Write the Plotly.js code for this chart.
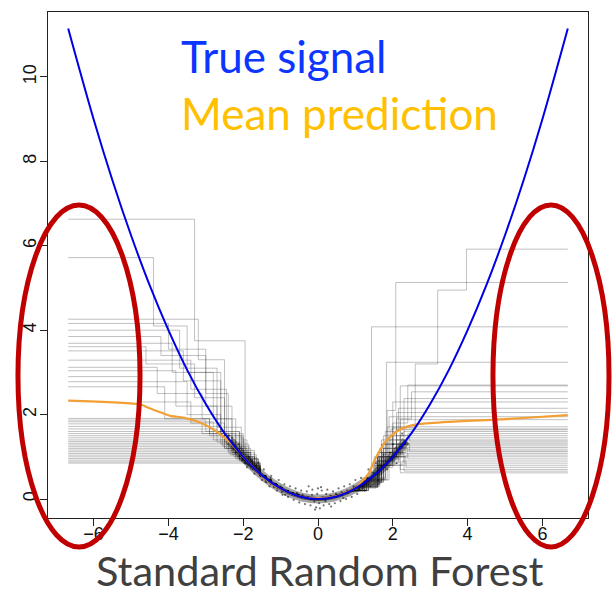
<!DOCTYPE html>
<html>
<head>
<meta charset="utf-8">
<script src="https://cdn.plot.ly/plotly-3.0.1.min.js"></script>
<style>html,body{margin:0;padding:0;background:#fff;}#chart{width:612px;height:596px;}</style>
</head>
<body>
<div id="chart"></div>
<script>
// ---- data ----
const xTicks = [-6, -4, -2, 0, 2, 4, 6];
const yTicks = [0, 2, 4, 6, 8, 10];

// true signal
const signalX = [-6.68, -6, -5.5, -5, -4.5, -4, -3.5, -3, -2.5, -2, -1.5, -1, -0.5, 0, 0.5, 1, 1.5, 2, 2.5, 3, 3.5, 4, 4.5, 5, 5.5, 6, 6.68];
const signalY = [11.15, 9.0, 7.56, 6.25, 5.06, 4.0, 3.06, 2.25, 1.56, 1.0, 0.56, 0.25, 0.06, 0, 0.06, 0.25, 0.56, 1.0, 1.56, 2.25, 3.06, 4.0, 5.06, 6.25, 7.56, 9.0, 11.15];

// mean prediction (orange)
const meanX = [-6.68, -4.75, -4.5, -4.2, -3.95, -3.6, -3.2, -2.8, -2.35, -2.0, -1.7, -1.37, -1.0, -0.5, 0, 0.5, 1.0, 1.12, 1.35, 1.56, 1.8, 2.1, 2.4, 2.72, 3.5, 4.5, 5.5, 6.68];
const meanY = [2.33, 2.24, 2.15, 2.05, 1.97, 1.93, 1.83, 1.65, 1.34, 1.0, 0.72, 0.45, 0.24, 0.06, 0.02, 0.07, 0.26, 0.36, 0.6, 1.0, 1.35, 1.6, 1.72, 1.78, 1.83, 1.87, 1.92, 1.99];

// dense band of observations (centre line of the black cloud)
const bandX = [-2.35, -2.0, -1.6, -1.2, -0.8, -0.4, 0, 0.4, 0.8, 1.2, 1.6, 2.0, 2.35];
const bandY = [1.38, 1.0, 0.64, 0.36, 0.16, 0.04, 0.0, 0.04, 0.16, 0.36, 0.64, 1.0, 1.38];

// scattered observations around the band
const obsX = [-2.38, -2.3, -2.25, -2.2, -2.12, -2.1, -2.02, -1.95, -1.9, -1.85, -1.78, -1.7, -1.66, -1.6, -1.55, -1.5, -1.45, -1.38, -1.3, -1.27, -1.25, -1.18, -1.1, -1.05, -1.0, -0.97, -0.95, -0.9, -0.84, -0.8, -0.75, -0.7, -0.65, -0.6, -0.57, -0.5, -0.45, -0.41, -0.35, -0.3, -0.27, -0.25, -0.2, -0.16, -0.15, -0.1, -0.05, -0.02, 0, 0.03, 0.05, 0.1, 0.12, 0.15, 0.2, 0.22, 0.25, 0.3, 0.33, 0.4, 0.45, 0.48, 0.55, 0.6, 0.63, 0.7, 0.75, 0.78, 0.85, 0.9, 0.95, 1.0, 1.05, 1.1, 1.15, 1.2, 1.25, 1.32, 1.35, 1.4, 1.47, 1.55, 1.6, 1.68, 1.75, 1.85, 1.92, 2.0, 2.1, 2.18, 2.25, 2.32, -0.55, 0.35, -1.4, 1.3, -0.88, 0.68, -0.08, 0.08];
const obsY = [1.5, 1.45, 1.18, 1.1, 1.3, 1.02, 0.92, 0.85, 0.75, 1.0, 0.9, 0.6, 0.78, 0.85, 0.55, 0.45, 0.7, 0.4, 0.3, 0.5, 0.55, 0.28, 0.2, 0.45, 0.3, 0.16, 0.1, 0.35, 0.2, 0.05, 0.3, 0.1, -0.02, 0.25, 0.14, -0.08, 0.2, 0.1, -0.12, 0.18, 0.05, 0.3, -0.15, 0.1, 0.22, -0.06, -0.2, 0.12, 0.25, -0.1, -0.22, 0.2, 0.04, -0.15, -0.05, 0.12, 0.22, -0.12, 0.08, 0.18, -0.1, 0.12, 0.25, -0.05, 0.16, 0.3, 0.0, 0.2, 0.35, 0.05, 0.3, 0.45, 0.12, 0.22, 0.5, 0.3, 0.2, 0.5, 0.7, 0.3, 0.62, 0.85, 0.45, 0.78, 1.05, 0.7, 1.1, 1.3, 0.85, 1.25, 1.55, 1.3, 0.12, -0.18, 0.42, 0.5, 0.1, 0.02, -0.25, 0.28];

// individual trees: [x where a level starts, level]
const treeLeft = [
  [[-6.68,6.63],[-3.3,3.75],[-1.95,1.1],[-1.7,0.75]],
  [[-6.68,5.72],[-4.4,4.1],[-3.5,3.0],[-2.6,1.6],[-2.1,1.0],[-1.8,0.7]],
  [[-6.68,4.26],[-3.2,3.3],[-2.5,1.5],[-2.0,1.0],[-1.65,0.65]],
  [[-6.68,4.16],[-4.0,3.55],[-3.0,2.2],[-2.3,1.25],[-1.85,0.8]],
  [[-6.68,4.0],[-3.7,3.1],[-2.7,1.7],[-2.05,0.95],[-1.75,0.72]],
  [[-6.68,3.85],[-4.2,3.4],[-3.0,2.5],[-2.4,1.4],[-1.9,0.85]],
  [[-6.68,3.69],[-3.9,3.0],[-2.8,1.9],[-2.2,1.15],[-1.7,0.7]],
  [[-6.68,3.61],[-4.6,3.2],[-3.3,2.4],[-2.5,1.45],[-2.0,0.95],[-1.6,0.62]],
  [[-6.68,3.51],[-3.6,2.8],[-2.6,1.55],[-2.0,0.9],[-1.75,0.68]],
  [[-6.68,3.29],[-3.4,2.6],[-2.45,1.3],[-1.85,0.75]],
  [[-6.68,3.12],[-4.3,2.5],[-3.1,1.9],[-2.3,1.2],[-1.8,0.78]],
  [[-6.68,3.04],[-3.8,2.2],[-2.7,1.6],[-2.1,1.05],[-1.65,0.66]],
  [[-6.68,2.90],[-4.8,2.3],[-3.4,1.8],[-2.5,1.35],[-1.95,0.88]],
  [[-6.68,2.78],[-3.5,2.0],[-2.6,1.5],[-2.05,1.0],[-1.7,0.7]],
  [[-6.68,2.66],[-4.1,1.9],[-2.9,1.55],[-2.2,1.1],[-1.8,0.72]],
  [[-6.68,1.91],[-2.9,1.5],[-2.3,1.1],[-1.85,0.8]],
  [[-6.68,1.83],[-2.8,1.4],[-2.2,1.0],[-1.7,0.68]],
  [[-6.68,1.78],[-3.1,1.55],[-2.4,1.15],[-1.9,0.82]],
  [[-6.68,1.72],[-2.6,1.3],[-2.05,0.95],[-1.6,0.6]],
  [[-6.68,1.66],[-2.7,1.35],[-2.1,0.95],[-1.75,0.7]],
  [[-6.68,1.60],[-2.5,1.2],[-2.0,0.9],[-1.7,0.72]],
  [[-6.68,1.55],[-2.55,1.25],[-1.95,0.85]],
  [[-6.68,1.50],[-2.4,1.1],[-1.8,0.74]],
  [[-6.68,1.45],[-2.45,1.2],[-2.0,0.95],[-1.65,0.64]],
  [[-6.68,1.40],[-2.35,1.05],[-1.85,0.78]],
  [[-6.68,1.36],[-2.3,1.1],[-1.95,0.85],[-1.7,0.66]],
  [[-6.68,1.32],[-2.25,1.0],[-1.75,0.7]],
  [[-6.68,1.28],[-2.2,0.95],[-1.6,0.63]],
  [[-6.68,1.24],[-2.3,1.05],[-1.95,0.85],[-1.65,0.67]],
  [[-6.68,1.20],[-2.15,0.95],[-1.8,0.76]],
  [[-6.68,1.16],[-2.1,0.9],[-1.7,0.69]],
  [[-6.68,1.12],[-2.05,0.88],[-1.6,0.6]],
  [[-6.68,1.08],[-2.1,0.92],[-1.75,0.73]],
  [[-6.68,1.04],[-2.0,0.85],[-1.65,0.65]],
  [[-6.68,1.00],[-1.95,0.82],[-1.7,0.7]],
  [[-6.68,0.96],[-1.9,0.8],[-1.6,0.62]],
  [[-6.68,0.92],[-1.8,0.75]],
  [[-6.68,0.88],[-1.9,0.78],[-1.65,0.64]],
  [[-6.68,0.85],[-1.75,0.7]],
  [[-6.68,1.87],[-3.0,1.6],[-2.5,1.2],[-1.9,0.8]]
];
const treeCenter = [[-1.55,0.55],[-1.4,0.45],[-1.25,0.35],[-1.1,0.27],[-0.95,0.2],[-0.8,0.14],[-0.65,0.09],[-0.5,0.05],[-0.35,0.02],[-0.2,0.0],[0.2,0.02],[0.35,0.05],[0.5,0.09],[0.65,0.14],[0.8,0.2]];
const treeRight = [
  [[1.1,0.35],[1.5,0.8],[2.0,1.7],[2.6,3.2],[3.2,4.95],[3.97,5.92]],
  [[1.0,0.3],[1.55,0.9],[1.85,2.1],[2.08,5.13]],
  [[1.25,0.42],[1.43,4.08]],
  [[1.15,0.36],[1.5,1.0],[1.83,3.24]],
  [[0.95,0.28],[1.6,1.1],[2.0,1.8],[2.4,2.70]],
  [[1.3,0.45],[1.7,1.3],[2.2,2.68]],
  [[1.05,0.32],[1.6,1.0],[2.1,1.9],[2.5,2.54]],
  [[1.2,0.4],[1.75,1.5],[2.3,2.38]],
  [[1.1,0.33],[1.5,0.9],[2.0,2.30]],
  [[1.35,0.48],[1.8,1.6],[2.15,2.15]],
  [[1.0,0.3],[1.65,1.2],[2.1,2.05]],
  [[1.25,0.45],[1.9,1.95]],
  [[1.15,0.38],[1.7,1.4],[2.2,1.88]],
  [[1.3,0.46],[1.85,1.71]],
  [[1.05,0.3],[1.6,1.1],[1.95,1.66]],
  [[1.2,0.4],[1.6,0.9],[1.9,1.4],[2.3,1.60]],
  [[0.95,0.26],[1.55,0.8],[2.0,1.3],[2.4,1.55]],
  [[1.1,0.34],[1.6,1.0],[2.2,1.50]],
  [[1.3,0.44],[1.7,1.1],[2.35,1.45]],
  [[1.2,0.42],[1.65,1.0],[2.1,1.40]],
  [[1.0,0.28],[1.6,0.9],[2.0,1.5],[2.45,1.37]],
  [[1.35,0.47],[1.75,1.2],[2.3,1.33]],
  [[1.15,0.37],[1.6,1.0],[2.25,1.30]],
  [[1.25,0.41],[1.7,1.3],[2.4,1.26]],
  [[1.05,0.31],[1.55,0.8],[2.05,1.22]],
  [[1.2,0.43],[1.6,1.1],[2.3,1.18]],
  [[1.1,0.35],[1.65,0.95],[2.2,1.14]],
  [[1.3,0.45],[1.8,1.3],[2.45,1.12]],
  [[0.95,0.27],[1.6,0.85],[2.15,1.08]],
  [[1.2,0.4],[1.7,1.0],[2.35,1.04]],
  [[1.1,0.36],[1.55,0.75],[2.0,1.00]],
  [[1.25,0.4],[1.75,1.2],[2.4,0.95]],
  [[1.0,0.3],[1.6,0.8],[2.25,0.90]],
  [[1.35,0.5],[1.8,1.1],[2.3,0.85]],
  [[1.15,0.36],[1.65,0.9],[2.2,0.80]],
  [[1.2,0.42],[1.7,1.0],[2.35,0.75]],
  [[1.05,0.33],[1.6,0.8],[2.2,0.70]],
  [[1.3,0.45],[1.75,1.05],[2.3,0.66]],
  [[1.2,0.5],[1.7,0.95],[2.2,0.62]],
  [[1.1,0.34],[1.65,1.0],[2.1,1.64]]
];
const xEnd = 6.68;

// ---- build traces ----
const traces = [];
treeLeft.forEach((left, i) => {
  const pts = left.concat(treeCenter, treeRight[i]);
  const last = pts[pts.length - 1][1];
  traces.push({
    type: 'scatter', mode: 'lines',
    x: pts.map(p => p[0]).concat([xEnd]),
    y: pts.map(p => p[1]).concat([last]),
    line: {shape: 'hv', color: 'rgba(40,40,40,0.32)', width: 0.9},
    hoverinfo: 'skip'
  });
});
traces.push({type:'scatter', mode:'lines', x: bandX, y: bandY, line:{shape:'spline', color:'rgba(0,0,0,0.35)', width:9}, hoverinfo:'skip'});
traces.push({type:'scatter', mode:'lines', x: bandX, y: bandY, line:{shape:'spline', color:'rgba(0,0,0,0.55)', width:4}, hoverinfo:'skip'});
traces.push({type:'scatter', mode:'markers', x: obsX, y: obsY, marker:{color:'rgba(0,0,0,0.55)', size:2.2}, hoverinfo:'skip'});
traces.push({type:'scatter', mode:'lines', x: meanX, y: meanY, line:{shape:'spline', smoothing:0.6, color:'#F2A035', width:2.2}, hoverinfo:'skip'});
traces.push({type:'scatter', mode:'lines', x: signalX, y: signalY, line:{shape:'spline', color:'#0000E6', width:2}, hoverinfo:'skip'});

const axisCommon = {
  showgrid:false, zeroline:false, showline:true, mirror:true,
  linecolor:'#222', linewidth:1.2,
  ticks:'outside', ticklen:7, tickwidth:1, tickcolor:'#222',
  tickfont:{family:'Liberation Sans, Arial, sans-serif', size:18, color:'#111'}
};

const layout = {
  width:612, height:596,
  margin:{l:48, r:24, t:12, b:78},
  paper_bgcolor:'#fff', plot_bgcolor:'#fff',
  showlegend:false, hovermode:false,
  xaxis: Object.assign({}, axisCommon, {range:[-7.22, 7.22], tickvals:xTicks, ticklabelstandoff:-8,
    ticktext:xTicks.map(v => v < 0 ? '\u2212' + Math.abs(v) : String(v))}),
  yaxis: Object.assign({}, axisCommon, {range:[-0.45, 11.54], tickvals:yTicks, tickangle:-90, ticklabelstandoff:-3}),
  annotations:[
    {text:'True signal', xref:'paper', yref:'paper', x:0.2426, y:0.913, xanchor:'left', yanchor:'middle', showarrow:false,
     font:{family:'Lato, Open Sans, sans-serif', size:44, color:'#0B36FF'}},
    {text:'Mean prediction', xref:'paper', yref:'paper', x:0.2426, y:0.8004, xanchor:'left', yanchor:'middle', showarrow:false,
     font:{family:'Lato, Open Sans, sans-serif', size:44, color:'#FFC000'}},
    {text:'Standard Random Forest', xref:'paper', yref:'paper', x:0.5046, y:-0.1036, xanchor:'center', yanchor:'middle', showarrow:false,
     font:{family:'Lato, Open Sans, sans-serif', size:41.5, color:'#404040'}}
  ],
  shapes:[
    {type:'circle', xref:'paper', yref:'paper', x0:-0.0556, x1:0.1704, y0:-0.0573, y1:0.6186, line:{color:'#C00000', width:5}},
    {type:'circle', xref:'paper', yref:'paper', x0:0.824, x1:1.0389, y0:-0.0573, y1:0.6186, line:{color:'#C00000', width:5}}
  ]
};

Plotly.newPlot('chart', traces, layout, {staticPlot:true, displayModeBar:false});
</script>
</body>
</html>
